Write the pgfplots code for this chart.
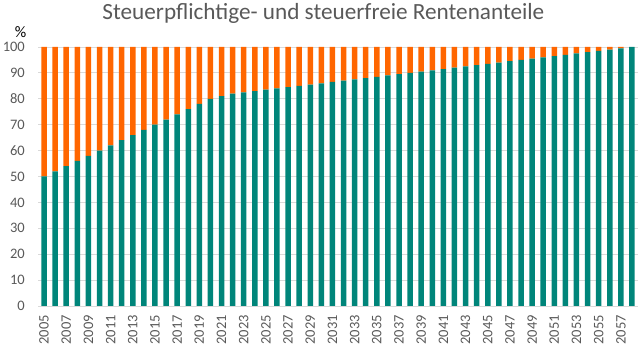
\documentclass[border=0pt]{standalone}
\usepackage{fontspec}
\setmainfont{Carlito}
\usepackage{pgfplots}
\usepackage{pgfplotstable}
\pgfplotsset{compat=1.18}
\definecolor{tealc}{RGB}{0,133,122}
\definecolor{orng}{RGB}{255,102,0}
\definecolor{txtgray}{RGB}{89,89,89}
\definecolor{gridgray}{RGB}{217,217,217}

\pgfplotstableread{
x year tax free
0 2005 50 50
1 2006 52 48
2 2007 54 46
3 2008 56 44
4 2009 58 42
5 2010 60 40
6 2011 62 38
7 2012 64 36
8 2013 66 34
9 2014 68 32
10 2015 70 30
11 2016 72 28
12 2017 74 26
13 2018 76 24
14 2019 78 22
15 2020 80 20
16 2021 81 19
17 2022 82 18
18 2023 82.5 17.5
19 2024 83 17
20 2025 83.5 16.5
21 2026 84 16
22 2027 84.5 15.5
23 2028 85 15
24 2029 85.5 14.5
25 2030 86 14
26 2031 86.5 13.5
27 2032 87 13
28 2033 87.5 12.5
29 2034 88 12
30 2035 88.5 11.5
31 2036 89 11
32 2037 89.5 10.5
33 2038 90 10
34 2039 90.5 9.5
35 2040 91 9
36 2041 91.5 8.5
37 2042 92 8
38 2043 92.5 7.5
39 2044 93 7
40 2045 93.5 6.5
41 2046 94 6
42 2047 94.5 5.5
43 2048 95 5
44 2049 95.5 4.5
45 2050 96 4
46 2051 96.5 3.5
47 2052 97 3
48 2053 97.5 2.5
49 2054 98 2
50 2055 98.5 1.5
51 2056 99 1
52 2057 99.5 0.5
53 2058 100 0
}\data

\begin{document}
\begin{tikzpicture}[x=1pt,y=1pt]
\path[use as bounding box] (0,0) rectangle (642,352);
\begin{axis}[
  at={(38.5pt,46pt)}, anchor=south west,
  scale only axis, width=599pt, height=259pt,
  ybar stacked, bar width=5.5pt,
  xmin=-0.5, xmax=53.5, ymin=0, ymax=100,
  ytick={0,10,...,100},
  xtick={0,2,...,52},
  xticklabels={2005,2007,2009,2011,2013,2015,2017,2019,2021,2023,2025,2027,2029,2031,2033,2035,2037,2039,2041,2043,2045,2047,2049,2051,2053,2055,2057},
  major tick length=0pt,
  axis line style={draw=none},
  ymajorgrids, grid style={gridgray, line width=0.9pt},
  /pgf/number format/assume math mode=true,
  yticklabel style={font=\fontsize{14.5}{14.5}\selectfont, text=txtgray},
  xticklabel style={font=\fontsize{14.5}{14.5}\selectfont, text=txtgray, rotate=90, anchor=east},
  ytick style={draw=none}, xtick style={draw=none},
  tick label style={inner sep=0pt},
  yticklabel shift=13.5pt,
  xticklabel shift=9pt,
  clip=false,
]
\addplot[fill=tealc, draw=none] table[x=x, y=tax] {\data};
\addplot[fill=orng, draw=none] table[x=x, y=free] {\data};
\end{axis}
\node[text=txtgray, font=\fontsize{23.2}{23.2}\selectfont, anchor=base, inner sep=0pt] at (323.4,332) {Steuerpflichtige- und steuerfreie Rentenanteile};
\node[font=\fontsize{16}{16}\selectfont, anchor=base, inner sep=0pt] at (20.5,314) {\%};
\end{tikzpicture}
\end{document}
